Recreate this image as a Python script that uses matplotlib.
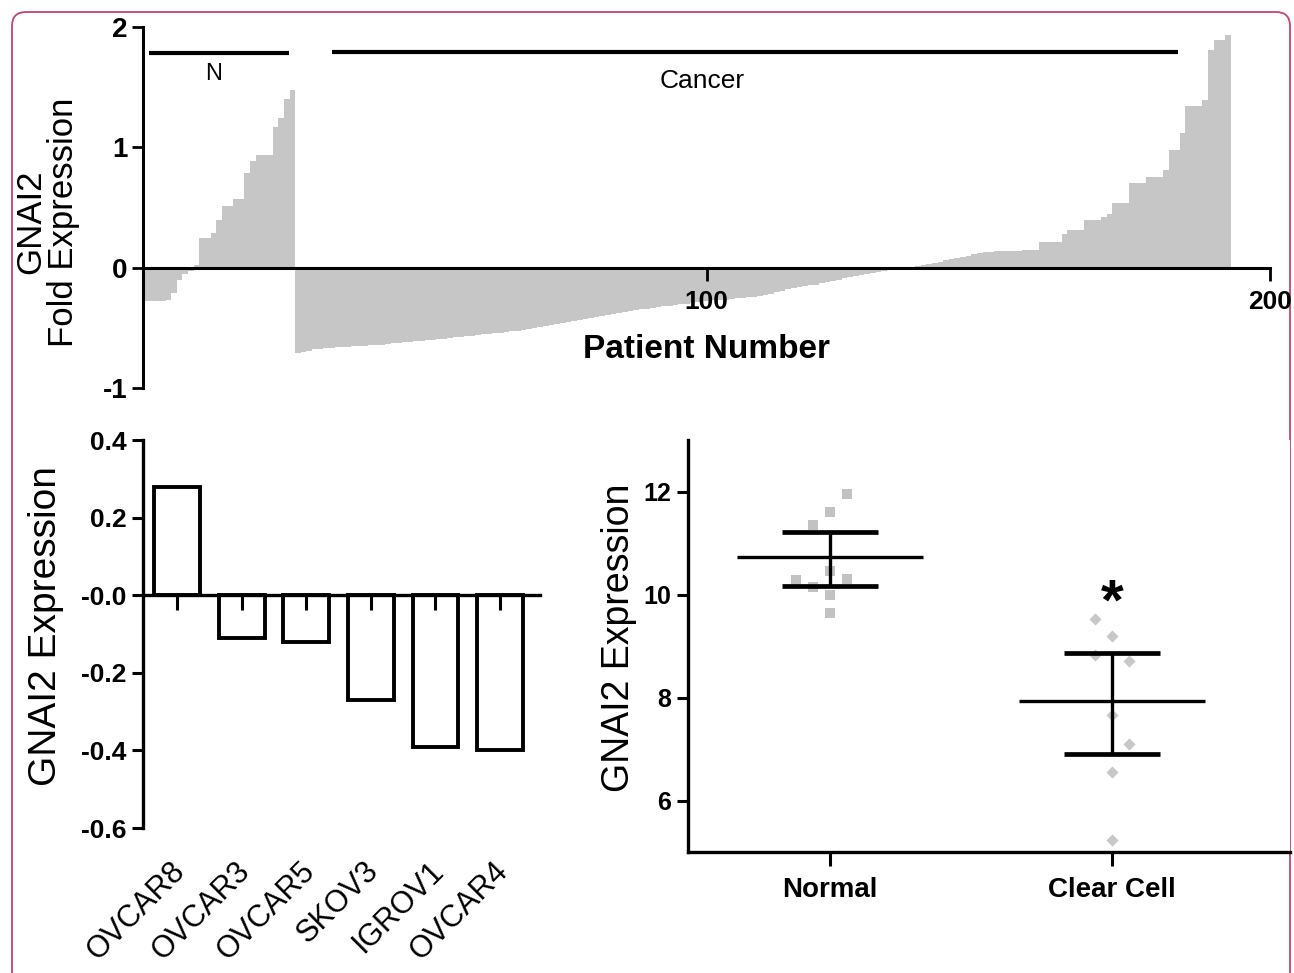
import numpy as np
import matplotlib
matplotlib.use('Agg')
import matplotlib.pyplot as plt
from matplotlib import font_manager
from matplotlib.patches import FancyBboxPatch

plt.rcParams['font.family'] = ['Liberation Sans', 'DejaVu Sans']
plt.rcParams['axes.unicode_minus'] = False
installed = {f.name for f in font_manager.fontManager.ttflist}
narrow = 'Liberation Sans Narrow' if 'Liberation Sans Narrow' in installed else 'Liberation Sans'

# --- top panel: fold expression per patient (sorted within group)
normal_fold = [-0.28, -0.28, -0.28, -0.28, -0.27, -0.21, -0.10, -0.05, -0.03, 0.02,
               0.25, 0.25, 0.29, 0.40, 0.51, 0.51, 0.57, 0.57, 0.79, 0.89,
               0.94, 0.94, 0.94, 1.17, 1.24, 1.40, 1.48]
cancer_fold = [-0.71, -0.70, -0.69, -0.68, -0.68, -0.67, -0.67, -0.66, -0.66, -0.66,
               -0.655, -0.65, -0.65, -0.645, -0.64, -0.64, -0.635, -0.63, -0.625, -0.62,
               -0.615, -0.61, -0.61, -0.605, -0.60, -0.595, -0.59, -0.585, -0.58, -0.575,
               -0.57, -0.565, -0.56, -0.555, -0.55, -0.545, -0.54, -0.535, -0.53, -0.525,
               -0.52, -0.51, -0.50, -0.49, -0.485, -0.48, -0.47, -0.46, -0.45, -0.44,
               -0.435, -0.43, -0.42, -0.41, -0.40, -0.39, -0.385, -0.38, -0.37, -0.36,
               -0.35, -0.345, -0.34, -0.335, -0.33, -0.32, -0.315, -0.31, -0.305, -0.30,
               -0.29, -0.285, -0.28, -0.275, -0.27, -0.27, -0.265, -0.26, -0.255, -0.25,
               -0.245, -0.24, -0.235, -0.225, -0.215, -0.205, -0.19, -0.18, -0.17, -0.16,
               -0.15, -0.145, -0.14, -0.13, -0.12, -0.11, -0.10, -0.09, -0.08, -0.07,
               -0.06, -0.05, -0.045, -0.035, -0.025, -0.02, -0.015, -0.01, -0.005, 0.0,
               0.01, 0.02, 0.03, 0.04, 0.05, 0.06, 0.07, 0.08, 0.09, 0.10,
               0.11, 0.12, 0.13, 0.13, 0.14, 0.14, 0.14, 0.14, 0.14, 0.145,
               0.145, 0.15, 0.21, 0.21, 0.21, 0.21, 0.28, 0.31, 0.31, 0.31,
               0.40, 0.40, 0.40, 0.42, 0.45, 0.54, 0.54, 0.54, 0.70, 0.70,
               0.70, 0.75, 0.75, 0.75, 0.81, 0.98, 0.98, 1.12, 1.34, 1.34,
               1.34, 1.39, 1.81, 1.89, 1.89, 1.93]

# --- bottom left: cell lines
cell_lines = ['OVCAR8', 'OVCAR3', 'OVCAR5', 'SKOV3', 'IGROV1', 'OVCAR4']
cell_expr = [0.28, -0.11, -0.12, -0.27, -0.39, -0.40]

# --- bottom right: normal vs clear cell
groups = ['Normal', 'Clear Cell']
normal_pts = [11.95, 11.6, 11.35, 10.45, 10.28, 10.15, 10.3, 10.0, 9.65]
normal_dx = [0.06, 0.0, -0.06, 0.0, -0.12, -0.06, 0.06, 0.0, 0.0]
clear_pts = [9.52, 9.19, 8.82, 8.71, 7.66, 7.10, 6.55, 5.24]
clear_dx = [-0.06, 0.0, -0.06, 0.06, 0.0, 0.06, 0.0, 0.0]
group_mean = [10.72, 7.93]
group_hi = [11.22, 8.86]
group_lo = [10.17, 6.90]

W, H = 1294, 973


def box(l, t, r, b):
    return [l / W, 1 - b / H, (r - l) / W, (b - t) / H]


fig = plt.figure(figsize=(W / 100, H / 100), dpi=100)

# red rounded frame
frame = fig.add_axes([0, 0, 1, 1])
frame.set_xlim(0, W)
frame.set_ylim(H, 0)
frame.axis('off')
frame.add_patch(FancyBboxPatch((12, 12), 1278, 1000, boxstyle='round,pad=0,rounding_size=14',
                               fc='none', ec='#c4456a', lw=1.3))

gray = '#c6c6c6'

# ---------------- top panel
ax1 = fig.add_axes(box(143, 27, 1270, 388))
n_norm = len(normal_fold)
idx_norm = np.arange(1, n_norm + 1)
idx_canc = np.arange(n_norm + 1, n_norm + len(cancer_fold) + 1)
ax1.bar(idx_norm - 1, normal_fold, width=1, align='edge', color=gray, lw=0)
ax1.bar(idx_canc - 1, cancer_fold, width=1, align='edge', color=gray, lw=0)
ax1.set_xlim(0, 200)
ax1.set_ylim(-1, 2)
for s in ['top', 'right']:
    ax1.spines[s].set_visible(False)
ax1.spines['bottom'].set_position(('data', 0))
ax1.spines['bottom'].set_linewidth(2.2)
ax1.spines['left'].set_linewidth(2.2)
ax1.set_xticks([100, 200])
ax1.set_yticks([-1, 0, 1, 2])
ax1.tick_params(axis='x', direction='out', length=9, width=2, pad=7, labelsize=19)
ax1.tick_params(axis='y', direction='out', length=8, width=2, pad=3, labelsize=20)
for lab in ax1.get_xticklabels() + ax1.get_yticklabels():
    lab.set_fontweight('bold')
ax1.plot([1.1, 25.9], [1.78, 1.78], color='black', lw=3, solid_capstyle='butt')
ax1.plot([33.6, 183.7], [1.79, 1.79], color='black', lw=3, solid_capstyle='butt')
ax1.text(12.6, 1.61, 'N', ha='center', va='center', fontsize=17)
ax1.text(99.3, 1.55, 'Cancer', ha='center', va='center', fontsize=19)
ax1.set_xlabel('Patient Number', fontsize=24, fontweight='bold')
ax1.xaxis.set_label_coords(0.5, 0.15)
ax1.set_ylabel('GNAI2\nFold Expression', fontsize=25, linespacing=1.0)
ax1.yaxis.set_label_coords(-0.056, 0.46)

# ---------------- bottom left panel
ax2 = fig.add_axes(box(143, 440, 540, 828))
pos = np.arange(len(cell_lines))
ax2.bar(pos, cell_expr, width=0.71, color='white', edgecolor='black', lw=2.8)
ax2.set_xlim(-0.53, 5.62)
ax2.set_ylim(-0.6, 0.4)
for s in ['top', 'right']:
    ax2.spines[s].set_visible(False)
ax2.spines['bottom'].set_position(('data', 0))
ax2.spines['bottom'].set_linewidth(2.4)
ax2.spines['left'].set_linewidth(2.4)
ax2.set_xticks(pos)
ax2.set_xticklabels([])
ax2.set_yticks([0.4, 0.2, 0.0, -0.2, -0.4, -0.6])
ax2.set_yticklabels(['0.4', '0.2', '-0.0', '-0.2', '-0.4', '-0.6'])
ax2.tick_params(axis='x', direction='out', length=11, width=2.2)
ax2.tick_params(axis='y', direction='out', length=8, width=2.2, pad=4, labelsize=19)
for lab in ax2.get_yticklabels():
    lab.set_fontweight('bold')
for p, name in zip(pos, cell_lines):
    ax2.text(p + 0.22, -0.672, name, rotation=45, ha='right', va='top', fontsize=22,
             clip_on=False)
ax2.set_ylabel('GNAI2 Expression', fontsize=28)
ax2.yaxis.set_label_coords(-0.2, 0.52)

# ---------------- bottom right panel
ax3 = fig.add_axes(box(688, 440, 1290, 852))
ax3.scatter(np.array(normal_dx) + 0, normal_pts, marker='s', s=62, color='#c2c2c2', lw=0, zorder=1)
ax3.scatter(np.array(clear_dx) + 1, clear_pts, marker='D', s=38, color='#c8c8c8', lw=0, zorder=1)
for g in range(len(groups)):
    ax3.hlines(group_mean[g], g - 0.33, g + 0.33, color='black', lw=2.4, zorder=3)
    ax3.hlines([group_hi[g], group_lo[g]], g - 0.17, g + 0.17, color='black', lw=3.4, zorder=3)
    ax3.vlines(g, group_lo[g], group_hi[g], color='black', lw=2.4, zorder=3)
ax3.text(1, 9.8, '*', ha='center', va='center', fontsize=42, fontweight='bold')
ax3.set_xlim(-0.504, 1.63)
ax3.set_ylim(5, 13)
for s in ['top', 'right']:
    ax3.spines[s].set_visible(False)
ax3.spines['bottom'].set_linewidth(2.4)
ax3.spines['left'].set_linewidth(2.4)
ax3.set_xticks([0, 1])
ax3.set_xticklabels(groups)
ax3.set_yticks([6, 8, 10, 12])
ax3.tick_params(axis='x', direction='out', length=10, width=2.2, pad=8, labelsize=20)
ax3.tick_params(axis='y', direction='out', length=8, width=2.2, pad=4, labelsize=18)
for lab in ax3.get_xticklabels() + ax3.get_yticklabels():
    lab.set_fontweight('bold')
    lab.set_family([narrow, 'DejaVu Sans'])
ax3.set_ylabel('GNAI2 Expression', fontsize=27)
ax3.yaxis.set_label_coords(-0.085, 0.52)

fig.savefig('out.png', dpi=100)
